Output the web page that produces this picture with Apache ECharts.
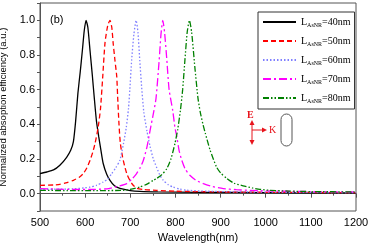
<!DOCTYPE html>
<html>
<head>
<meta charset="utf-8">
<script src="https://cdn.jsdelivr.net/npm/echarts@6/dist/echarts.min.js"></script>
<style>
html, body { margin: 0; padding: 0; background: #fff; }
#chart-container { width: 370px; height: 245px; }
</style>
</head>
<body>
<div id="chart-container"></div>
<script>
// wavelength (nm) / normalized absorption
var wl40 = [500, 515, 530, 544, 559, 568, 574, 579, 584, 589, 594, 598, 602, 606, 611, 616, 620, 625, 630, 635, 640, 648, 655, 665, 677, 700, 721, 761, 850, 1000, 1200];
var ab40 = [0.116, 0.125, 0.137, 0.164, 0.21, 0.25, 0.30, 0.42, 0.58, 0.70, 0.83, 0.94, 1.0, 0.96, 0.82, 0.68, 0.56, 0.42, 0.33, 0.25, 0.174, 0.11, 0.077, 0.045, 0.03, 0.018, 0.013, 0.01, 0.008, 0.006, 0.004];

var wl50 = [500, 530, 544, 560, 574, 587, 596, 604, 611, 617, 622, 629, 634, 639, 644, 650, 655, 659, 662, 666, 670, 672, 675, 678, 683, 688, 693, 699, 706, 714, 730, 758, 800, 900, 1000, 1200];
var ab50 = [0.048, 0.05, 0.054, 0.064, 0.077, 0.095, 0.116, 0.15, 0.193, 0.24, 0.29, 0.386, 0.49, 0.676, 0.87, 0.97, 1.0, 0.96, 0.87, 0.77, 0.676, 0.56, 0.40, 0.29, 0.21, 0.154, 0.11, 0.077, 0.05, 0.032, 0.024, 0.019, 0.014, 0.01, 0.008, 0.006];

var wl60 = [500, 540, 574, 600, 611, 625, 640, 650, 659, 668, 677, 685, 691, 696, 699, 703, 708, 713, 717, 721, 725, 730, 737, 744, 751, 758, 765, 773, 784, 795, 810, 825, 870, 950, 1050, 1200];
var ab60 = [0.025, 0.026, 0.028, 0.034, 0.038, 0.048, 0.067, 0.085, 0.116, 0.15, 0.193, 0.29, 0.38, 0.49, 0.6, 0.77, 0.92, 1.0, 0.93, 0.77, 0.62, 0.47, 0.36, 0.27, 0.2, 0.154, 0.11, 0.077, 0.052, 0.038, 0.026, 0.02, 0.014, 0.01, 0.008, 0.006];

var wl70 = [500, 540, 574, 610, 648, 670, 692, 704, 714, 722, 729, 737, 744, 751, 757, 764, 768, 772, 776, 781, 786, 794, 799, 803, 808, 814, 822, 832, 845, 862, 880, 906, 935, 965, 1000, 1100, 1200];
var ab70 = [0.029, 0.026, 0.024, 0.024, 0.028, 0.04, 0.058, 0.085, 0.116, 0.15, 0.193, 0.27, 0.367, 0.46, 0.55, 0.77, 0.92, 1.0, 0.93, 0.77, 0.6, 0.48, 0.38, 0.33, 0.25, 0.193, 0.14, 0.106, 0.078, 0.058, 0.042, 0.029, 0.023, 0.019, 0.016, 0.012, 0.01];

var wl80 = [500, 560, 620, 685, 705, 721, 737, 751, 758, 770, 781, 790, 799, 805, 811, 816, 821, 826, 831, 836, 843, 850, 855, 861, 866, 877, 891, 900, 914, 930, 950, 970, 987, 1006, 1050, 1100, 1200];
var ab80 = [0.019, 0.018, 0.018, 0.019, 0.027, 0.038, 0.055, 0.077, 0.087, 0.11, 0.145, 0.2, 0.29, 0.37, 0.48, 0.6, 0.77, 0.93, 1.0, 0.93, 0.73, 0.55, 0.47, 0.40, 0.35, 0.25, 0.154, 0.12, 0.087, 0.06, 0.045, 0.033, 0.025, 0.02, 0.015, 0.012, 0.01];

var seriesNames = ['40nm', '50nm', '60nm', '70nm', '80nm'];

function zip(xs, ys) {
    return xs.map(function (x, i) { return [x, ys[i]]; });
}

var dom = document.getElementById('chart-container');
var myChart = echarts.init(dom, null, { renderer: 'canvas' });

var lines = [
    { data: zip(wl40, ab40), color: '#000000', type: 'solid' },
    { data: zip(wl50, ab50), color: '#ff0000', type: [5, 3] },
    { data: zip(wl60, ab60), color: '#7f7fff', type: [1.5, 2] },
    { data: zip(wl70, ab70), color: '#ff00ff', type: [8, 3, 2, 3] },
    { data: zip(wl80, ab80), color: '#008000', type: [6, 2, 1.5, 2, 1.5, 2] }
];

var red = '#e8141c';
var option = {
    animation: false,
    grid: {
        left: 40, right: 14, top: 3, bottom: 34,
        outerBoundsMode: 'none',
        containLabel: false,
        show: true, borderColor: '#555', borderWidth: 1
    },
    legend: {
        orient: 'vertical',
        left: 258, top: 12,
        itemWidth: 33, itemHeight: 10, itemGap: 8,
        padding: [5, 4, 5, 4],
        borderColor: '#333', borderWidth: 1,
        data: seriesNames,
        itemStyle: { color: 'transparent', borderColor: 'transparent', borderWidth: 0 },
        formatter: function (name) {
            return '{n|L}{s|AsNR}{n|=' + name + '}';
        },
        textStyle: {
            rich: {
                n: { fontFamily: 'Liberation Serif', fontSize: 10, color: '#000' },
                s: { fontFamily: 'Liberation Serif', fontSize: 6, color: '#000', padding: [6, 0, 0, 0] }
            }
        }
    },
    xAxis: {
        type: 'value',
        min: 500, max: 1200, interval: 100,
        name: 'Wavelength(nm)',
        nameLocation: 'middle', nameGap: 16,
        nameTextStyle: { fontFamily: 'Liberation Sans', fontSize: 11, color: '#000' },
        axisLine: { lineStyle: { color: '#555' } },
        axisTick: { length: 4, lineStyle: { color: '#555' } },
        minorTick: { show: true, splitNumber: 2, length: 2, lineStyle: { color: '#555' } },
        axisLabel: {
            fontFamily: 'Liberation Sans', fontSize: 11, color: '#000', margin: 6,
            formatter: function (v) { return String(v); }
        },
        splitLine: { show: false }
    },
    yAxis: {
        type: 'value',
        min: -0.1, max: 1.1, interval: 0.1,
        name: 'Normalized absoption efficiency (a.u.)',
        nameLocation: 'middle', nameGap: 27,
        nameTextStyle: { fontFamily: 'Liberation Sans', fontSize: 9.5, color: '#000' },
        axisLine: { show: true, lineStyle: { color: '#555' } },
        axisTick: { length: 3, lineStyle: { color: '#555' } },
        axisLabel: {
            fontFamily: 'Liberation Sans', fontSize: 11, color: '#000', margin: 5,
            formatter: function (v) {
                var k = Math.round(v * 10);
                return (k >= 0 && k <= 10 && k % 2 === 0) ? (k / 10).toFixed(1) : '';
            }
        },
        splitLine: { show: false }
    },
    series: lines.map(function (l, i) {
        return {
            name: seriesNames[i],
            type: 'line',
            data: l.data,
            symbol: 'none',
            smooth: 0.2,
            color: l.color,
            lineStyle: { color: l.color, width: 1.3, type: l.type }
        };
    }),
    graphic: [
        { type: 'text', left: 50, top: 14, style: { text: '(b)', font: '11px "Liberation Sans"', fill: '#000' } },
        { type: 'text', left: 247, top: 110, style: { text: 'E', font: 'bold 10px "Liberation Serif"', fill: red } },
        { type: 'line', shape: { x1: 252, y1: 124, x2: 252, y2: 141 }, style: { stroke: red, lineWidth: 1 } },
        { type: 'polygon', shape: { points: [[252, 120], [249.5, 125], [254.5, 125]] }, style: { fill: red } },
        { type: 'polygon', shape: { points: [[252, 145], [249.5, 140], [254.5, 140]] }, style: { fill: red } },
        { type: 'line', shape: { x1: 252, y1: 130, x2: 263, y2: 130 }, style: { stroke: red, lineWidth: 1 } },
        { type: 'polygon', shape: { points: [[267, 130], [262, 127.5], [262, 132.5]] }, style: { fill: red } },
        { type: 'text', left: 269, top: 125, style: { text: 'K', font: '10px "Liberation Serif"', fill: red } },
        { type: 'rect', shape: { x: 281, y: 114, width: 11, height: 32, r: 5.5 }, style: { fill: 'none', stroke: '#555', lineWidth: 1 } }
    ]
};

myChart.setOption(option);
window.addEventListener('resize', myChart.resize);
</script>
</body>
</html>
